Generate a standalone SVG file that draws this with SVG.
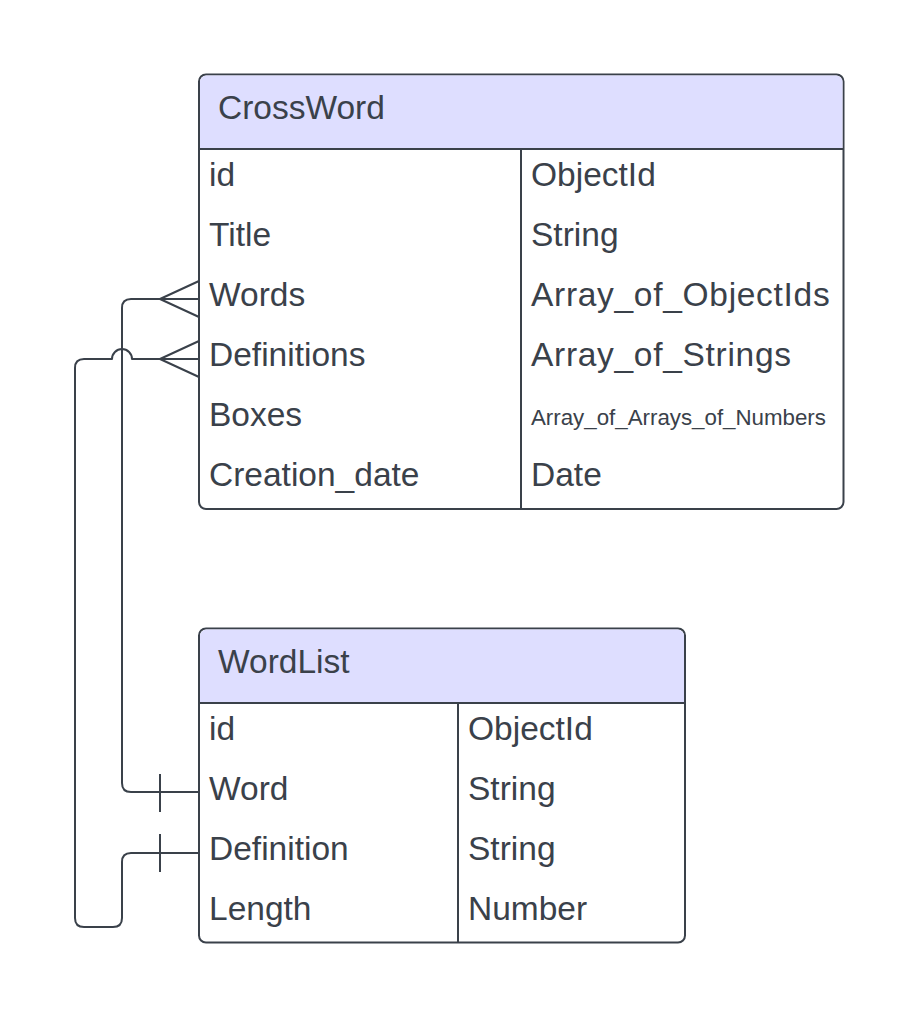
<svg xmlns="http://www.w3.org/2000/svg" width="919" height="1018" viewBox="0 0 919 1018">
<style>
.box{fill:#ffffff;stroke:#3a414a;stroke-width:2}
.hdr{fill:#dedeff;stroke:none}
.ln{fill:none;stroke:#3a414a;stroke-width:2}
.cn{fill:none;stroke:#3a414a;stroke-width:2;stroke-linejoin:round}
.t{font-family:"Liberation Sans",Arial,sans-serif;font-size:33.5px;fill:#3a414a}
.w{letter-spacing:0.7px}
.s{font-family:"Liberation Sans",Arial,sans-serif;font-size:22.3px;fill:#3a414a}
</style>
<rect width="919" height="1018" fill="#ffffff"/>
<g id="connectors">
<path class="cn" d="M199,299 H131 Q122,299 122,308 V783 Q122,792 131,792 H199"/>
<path class="cn" d="M160,299 L199,281 M160,299 L199,317"/>
<path class="cn" d="M160,774 V812"/>
<path class="cn" d="M199,359 H132 A10,10 0 0 0 112,359 H84 Q75,359 75,368 V918 Q75,927 84,927 H113 Q122,927 122,918 V862 Q122,853 131,853 H199"/>
<path class="cn" d="M160,359 L199,341 M160,359 L199,377"/>
<path class="cn" d="M160,834 V872"/>
</g>
<g id="crossword">
<rect class="box" x="199" y="74.5" width="644.5" height="434.5" rx="7" ry="7"/>
<path class="hdr" d="M200,149 V82 A6.5,6.5 0 0 1 206.5,75.5 H836 A6.5,6.5 0 0 1 842.5,82 V149 Z"/>
<path class="ln" d="M199,149 H843.5 M521,149 V509"/>
<text class="t" x="218" y="119">CrossWord</text>
<text class="t" x="209" y="186">id</text>
<text class="t" x="531" y="186">ObjectId</text>
<text class="t" x="209" y="246">Title</text>
<text class="t" x="531" y="246">String</text>
<text class="t" x="209" y="306">Words</text>
<text class="t w" x="531" y="306">Array_of_ObjectIds</text>
<text class="t" x="209" y="366">Definitions</text>
<text class="t w" x="531" y="366">Array_of_Strings</text>
<text class="t" x="209" y="426">Boxes</text>
<text class="s" x="531" y="424.5">Array_of_Arrays_of_Numbers</text>
<text class="t" x="209" y="486">Creation_date</text>
<text class="t" x="531" y="486">Date</text>
</g>
<g id="wordlist">
<rect class="box" x="199" y="628.5" width="486" height="314" rx="7" ry="7"/>
<path class="hdr" d="M200,703 V636 A6.5,6.5 0 0 1 206.5,629.5 H677.5 A6.5,6.5 0 0 1 684,636 V703 Z"/>
<path class="ln" d="M199,703 H685 M458,703 V942.5"/>
<text class="t" x="218" y="673">WordList</text>
<text class="t" x="209" y="740">id</text>
<text class="t" x="468" y="740">ObjectId</text>
<text class="t" x="209" y="800">Word</text>
<text class="t" x="468" y="800">String</text>
<text class="t" x="209" y="860">Definition</text>
<text class="t" x="468" y="860">String</text>
<text class="t" x="209" y="920">Length</text>
<text class="t" x="468" y="920">Number</text>
</g>
</svg>
